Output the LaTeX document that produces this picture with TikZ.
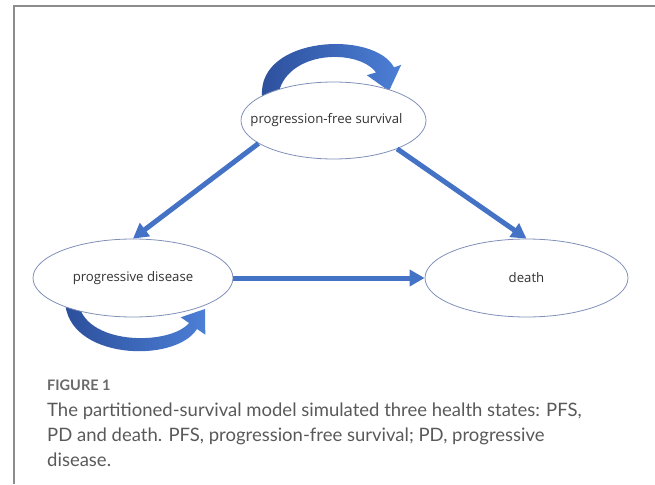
\documentclass[tikz,border=0pt]{standalone}
\usepackage{fontspec}
\setmainfont{Lato}
\newfontfamily\diagfont{Open Sans}
\usetikzlibrary{shapes.geometric,arrows.meta}
\definecolor{frameg}{HTML}{8C8C8C}
\definecolor{arrblue}{HTML}{4472C4}
\definecolor{darkblue}{HTML}{2C4F9B}
\definecolor{lightblue}{HTML}{4C7FD6}
\definecolor{ellline}{HTML}{8090B8}
\definecolor{captxt}{HTML}{595959}
\definecolor{capttl}{HTML}{6A6A6A}
\tikzset{
  statenode/.style={ellipse, draw=ellline, line width=0.8pt, fill=white, inner sep=0pt,
    font=\diagfont\fontsize{13.2}{15}\selectfont, text=black!80},
  flowarrow/.style={draw=arrblue, line width=5pt, -{Triangle[length=15pt,width=16pt]}},
  loopshape/.style={left color=darkblue, right color=lightblue, draw=none},
  framerule/.style={draw=frameg, line width=2pt},
  captext/.style={anchor=base west, inner sep=0pt, text=captxt, font=\fontsize{18.5}{20}\selectfont},
}
\begin{document}
\begin{tikzpicture}[x=1pt,y=-1pt]
\useasboundingbox (0,0) rectangle (655,484);
% frame
\draw[framerule] (14,484) -- (14,5.7) -- (655,5.7);
% self loops (drawn before the ellipses)
\path[loopshape] (262,96) .. controls (258,36) and (374,30) .. (394,67.4)
  -- (401.2,64.8) -- (389,91) -- (366.8,75.2) -- (376,72.5)
  .. controls (358,48) and (285,50) .. (278,96) -- cycle;
\path[loopshape] (65,300) .. controls (66,360) and (175,364) .. (197,329)
  -- (205.3,334.7) -- (205,309) -- (180.7,317.3) -- (189,323)
  .. controls (170,346) and (82,346) .. (78,300) -- cycle;
% states
\node[statenode, minimum width=185pt, minimum height=77pt] (pfs) at (333.5,120.5)
  {\makebox[0pt][c]{progression-free survival\hspace*{14pt}}};
\node[statenode, minimum width=200pt, minimum height=78pt] (pd) at (133,278)
  {\makebox[0pt][c]{progressive disease}};
\node[statenode, minimum width=203pt, minimum height=78pt] (death) at (526.5,278) {death};
% transitions
\draw[flowarrow] (pfs.197) -- (pd.north);
\draw[flowarrow] (pfs.336) -- (death.north);
\draw[flowarrow] (pd.east) -- (death.west);
% caption
\node[anchor=base west, inner sep=0pt, text=capttl, font=\fontsize{14.5}{16}\selectfont\bfseries] (figlbl) at (47,390) {FIGURE 1};
\node[captext] (cap1) at (47,416) {The partitioned-survival model simulated three health states: PFS,};
\node[captext] (cap2) at (47,441) {PD and death. PFS, progression-free survival; PD, progressive};
\node[captext] (cap3) at (47,466) {disease.};
\end{tikzpicture}
\end{document}
